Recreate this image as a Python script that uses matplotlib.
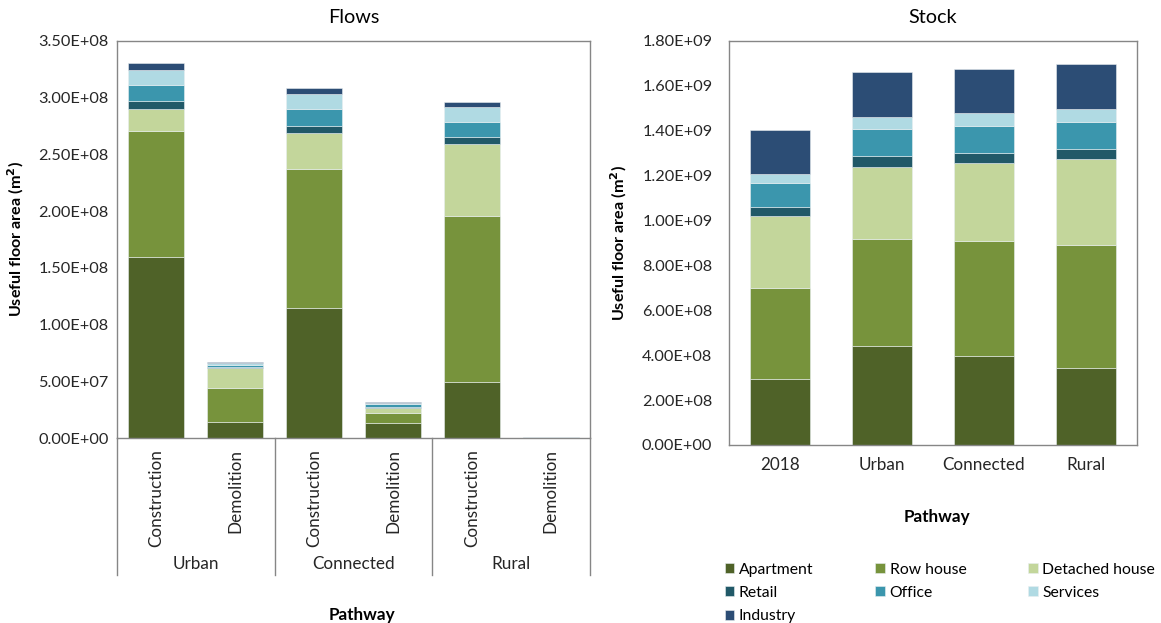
import numpy as np
import matplotlib
matplotlib.use("Agg")
import matplotlib.pyplot as plt
from matplotlib.ticker import FuncFormatter

plt.rcParams["font.family"] = ["Lato", "DejaVu Sans"]

# building types, bottom to top
types = ["Apartment", "Row house", "Detached house", "Retail", "Office", "Services", "Industry"]
colors = ["#4f6228", "#77933c", "#c3d69b", "#215968", "#3b96ad", "#b0dae3", "#2c4d75"]

# Flows: Urban/Connected/Rural x Construction/Demolition (m2)
pathways = ["Urban", "Connected", "Rural"]
flow_kinds = ["Construction", "Demolition"]
flows = {
    "Apartment":      [1.60e8, 0.144e8, 1.146e8, 0.130e8, 0.490e8, 0.001e8],
    "Row house":      [1.11e8, 0.294e8, 1.226e8, 0.088e8, 1.467e8, 0.001e8],
    "Detached house": [0.19e8, 0.176e8, 0.315e8, 0.044e8, 0.635e8, 0.001e8],
    "Retail":         [0.067e8, 0.010e8, 0.064e8, 0.010e8, 0.062e8, 0.0005e8],
    "Office":         [0.147e8, 0.020e8, 0.153e8, 0.025e8, 0.132e8, 0.0005e8],
    "Services":       [0.132e8, 0.015e8, 0.130e8, 0.013e8, 0.130e8, 0.0005e8],
    "Industry":       [0.059e8, 0.010e8, 0.056e8, 0.010e8, 0.044e8, 0.0005e8],
}

# Stock by pathway (m2)
stock_labels = ["2018", "Urban", "Connected", "Rural"]
stock = {
    "Apartment":      [0.295e9, 0.440e9, 0.395e9, 0.345e9],
    "Row house":      [0.405e9, 0.478e9, 0.513e9, 0.545e9],
    "Detached house": [0.320e9, 0.322e9, 0.348e9, 0.385e9],
    "Retail":         [0.040e9, 0.046e9, 0.046e9, 0.046e9],
    "Office":         [0.107e9, 0.120e9, 0.119e9, 0.119e9],
    "Services":       [0.041e9, 0.055e9, 0.056e9, 0.055e9],
    "Industry":       [0.196e9, 0.200e9, 0.199e9, 0.202e9],
}

W, H = 1161, 623
fig = plt.figure(figsize=(W / 100, H / 100), dpi=100)

def px_axes(x0, y0, x1, y1):
    return fig.add_axes([x0 / W, 1 - y1 / H, (x1 - x0) / W, (y1 - y0) / H])

sci = FuncFormatter(lambda v, p: f"{v:.2E}")
frame_col = "#868686"
tick_fs = 11.7
cat_fs = 12.3
lab_fs = 12.3

def style(ax):
    for s in ax.spines.values():
        s.set_color(frame_col)
        s.set_linewidth(1.0)
    ax.yaxis.set_major_formatter(sci)
    ax.tick_params(axis="both", length=0, labelsize=tick_fs, colors="#262626")

# ---- Flows ----
ax1 = px_axes(117, 41, 590, 438)
x1 = np.arange(len(pathways) * len(flow_kinds))
bottom = np.zeros(len(x1))
for t, c in zip(types, colors):
    vals = np.array(flows[t])
    ax1.bar(x1, vals, 0.71, bottom=bottom, color=c, edgecolor="#e8eef0", linewidth=0.4)
    bottom += vals
ax1.set_xlim(-0.5, len(x1) - 0.5)
ax1.set_ylim(0, 3.5e8)
ax1.set_yticks(np.arange(0, 3.51e8, 0.5e8))
style(ax1)
ax1.tick_params(axis="y", pad=6)
ax1.set_xticks([])
ax1.set_title("Flows", fontsize=14.3, pad=13)
ax1.set_ylabel("Useful floor area (m$\\mathbf{^2}$)", fontsize=11.6, fontweight="bold", labelpad=9)

trans = ax1.get_xaxis_transform()
for i, xi in enumerate(x1):
    ax1.text(xi, -0.028, flow_kinds[i % 2], rotation=90, ha="center", va="top",
             fontsize=cat_fs, color="#262626", transform=trans)
for g, name in enumerate(pathways):
    ax1.text(2 * g + 0.5, -0.317, name, ha="center", va="center",
             fontsize=cat_fs, color="#262626", transform=trans)
for xs in np.arange(-0.5, len(x1), 2):
    ax1.plot([xs, xs], [0, -0.345], color=frame_col, lw=1.0, transform=trans, clip_on=False)
fig.text(362 / W, 1 - 615 / H, "Pathway", ha="center", va="center", fontsize=lab_fs, fontweight="bold")

# ---- Stock ----
ax2 = px_axes(729, 41, 1137, 445)
x2 = np.arange(len(stock_labels))
bottom = np.zeros(len(x2))
for t, c in zip(types, colors):
    vals = np.array(stock[t])
    ax2.bar(x2, vals, 0.59, bottom=bottom, color=c, edgecolor="#e8eef0", linewidth=0.4, label=t)
    bottom += vals
ax2.set_xlim(-0.5, len(x2) - 0.5)
ax2.set_ylim(0, 1.8e9)
ax2.set_yticks(np.arange(0, 1.81e9, 0.2e9))
style(ax2)
ax2.tick_params(axis="y", pad=12)
ax2.tick_params(axis="x", pad=9, labelsize=cat_fs)
ax2.set_xticks(x2)
ax2.set_xticklabels(stock_labels)
ax2.set_title("Stock", fontsize=14.3, pad=13)
ax2.set_ylabel("Useful floor area (m$\\mathbf{^2}$)", fontsize=11.6, fontweight="bold", labelpad=9)
fig.text(937 / W, 1 - 517 / H, "Pathway", ha="center", va="center", fontsize=lab_fs, fontweight="bold")

# legend, row-wise order in three columns
handles, labels = ax2.get_legend_handles_labels()
order = [0, 3, 6, 1, 4, 2, 5]
fig.legend([handles[i] for i in order], [labels[i] for i in order],
           loc="upper left", bbox_to_anchor=(717 / W, 1 - 555 / H), ncol=3,
           frameon=False, fontsize=11.3, handlelength=0.6, handleheight=0.6,
           handletextpad=0.3, columnspacing=3.95, labelspacing=0.58, borderpad=0)

fig.savefig("out.png", dpi=100)
